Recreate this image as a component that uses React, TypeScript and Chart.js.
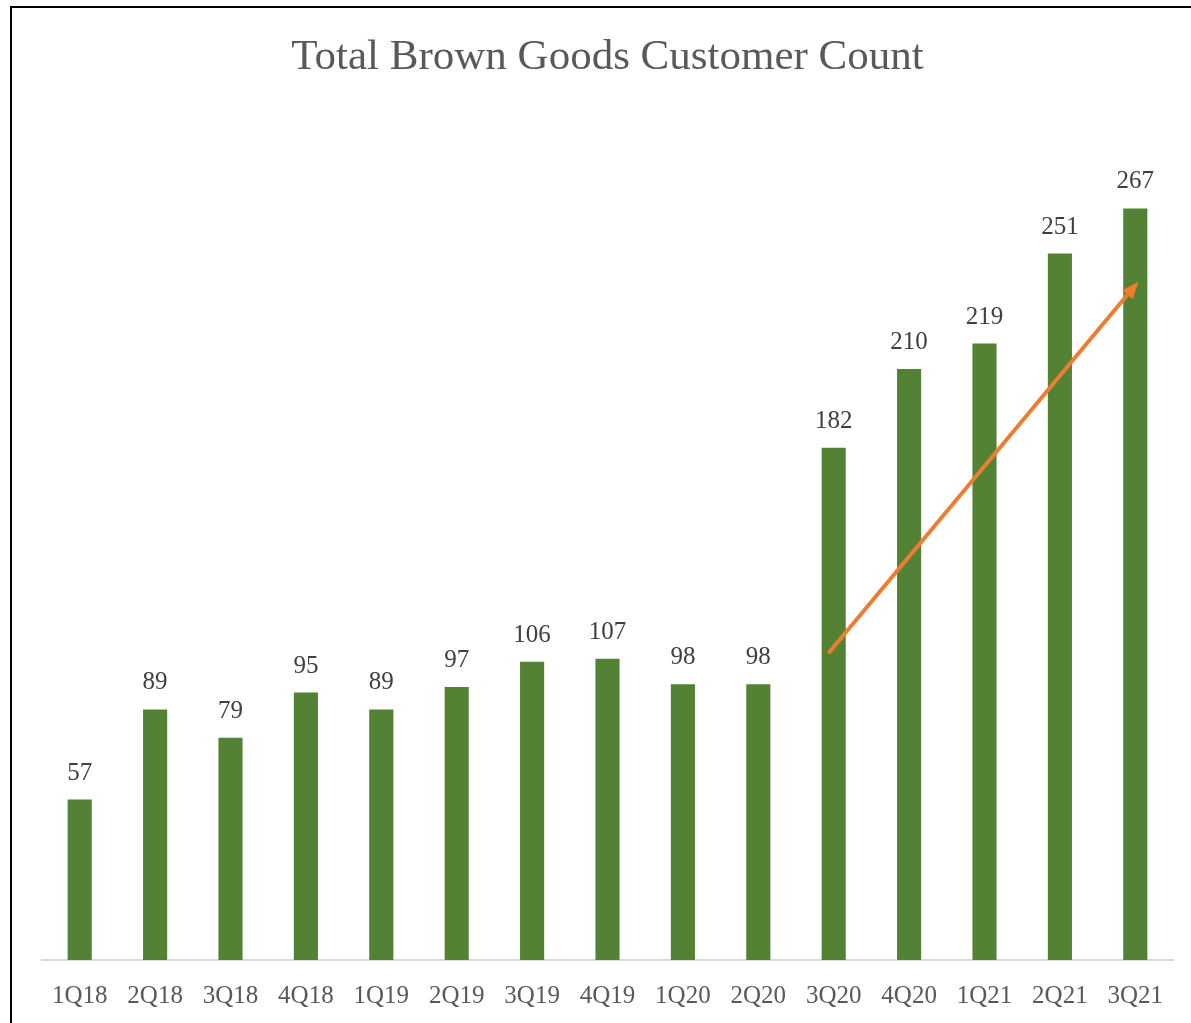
import React, { useEffect, useRef } from "react";
import { Chart, registerables } from "chart.js";

Chart.register(...registerables);

const TITLE = "Total Brown Goods Customer Count";
const categories = ["1Q18", "2Q18", "3Q18", "4Q18", "1Q19", "2Q19", "3Q19", "4Q19", "1Q20", "2Q20", "3Q20", "4Q20", "1Q21", "2Q21", "3Q21"];
const customerCounts = [57, 89, 79, 95, 89, 97, 106, 107, 98, 98, 182, 210, 219, 251, 267];
// Trend arrow, in data units: [category index, value]
const arrowStart = [9.93, 109];
const arrowEnd = [14.04, 241];

const FONT = "'Liberation Serif', 'Times New Roman', serif";

const valueLabels = {
  id: "valueLabels",
  afterDatasetsDraw(chart: any) {
    const ctx = chart.ctx;
    const meta = chart.getDatasetMeta(0);
    ctx.save();
    ctx.font = `25px ${FONT}`;
    ctx.fillStyle = "#404040";
    ctx.textAlign = "center";
    ctx.textBaseline = "alphabetic";
    meta.data.forEach((bar: any, i: number) => {
      ctx.fillText(String(customerCounts[i]), bar.x, bar.y - 20);
    });
    ctx.restore();
  },
};

const trendArrow = {
  id: "trendArrow",
  afterDatasetsDraw(chart: any) {
    const ctx = chart.ctx;
    const xs = chart.scales.x;
    const ys = chart.scales.y;
    const step = xs.getPixelForValue(1) - xs.getPixelForValue(0);
    const x0 = xs.getPixelForValue(0) + arrowStart[0] * step;
    const x1 = xs.getPixelForValue(0) + arrowEnd[0] * step;
    const y0 = ys.getPixelForValue(arrowStart[1]);
    const y1 = ys.getPixelForValue(arrowEnd[1]);
    const ang = Math.atan2(y1 - y0, x1 - x0);
    const headLen = 17;
    const headW = 7;
    const bx = x1 - headLen * Math.cos(ang);
    const by = y1 - headLen * Math.sin(ang);
    ctx.save();
    ctx.strokeStyle = "#ED7D31";
    ctx.fillStyle = "#ED7D31";
    ctx.lineWidth = 4;
    ctx.beginPath();
    ctx.moveTo(x0, y0);
    ctx.lineTo(bx, by);
    ctx.stroke();
    ctx.beginPath();
    ctx.moveTo(x1, y1);
    ctx.lineTo(bx + headW * Math.sin(ang), by - headW * Math.cos(ang));
    ctx.lineTo(bx - headW * Math.sin(ang), by + headW * Math.cos(ang));
    ctx.closePath();
    ctx.fill();
    ctx.restore();
  },
};

export default function App() {
  const canvasRef = useRef<HTMLCanvasElement>(null);

  useEffect(() => {
    if (!canvasRef.current) return;
    const chart = new Chart(canvasRef.current, {
      type: "bar",
      data: {
        labels: categories,
        datasets: [
          {
            label: "Customer Count",
            data: customerCounts,
            backgroundColor: "#548235",
            borderWidth: 0,
            barPercentage: 0.32,
            categoryPercentage: 1,
          },
        ],
      },
      options: {
        animation: false,
        responsive: false,
        maintainAspectRatio: false,
        layout: { padding: { left: 42, right: 18, top: 0, bottom: 0 } },
        plugins: {
          legend: { display: false },
          tooltip: { enabled: false },
          title: {
            display: true,
            text: TITLE,
            color: "#595959",
            font: { family: FONT, size: 43, weight: "normal", lineHeight: 1.2 },
            padding: { top: 32, bottom: 32 },
          },
        },
        scales: {
          x: {
            grid: { display: false, drawTicks: false },
            border: { display: true, color: "#D9D9D9", width: 2 },
            ticks: {
              color: "#595959",
              font: { family: FONT, size: 25, lineHeight: 1.2 },
              padding: 21,
              maxRotation: 0,
              autoSkip: false,
            },
          },
          y: {
            display: false,
            min: 0,
            max: 300,
          },
        },
      },
      plugins: [valueLabels, trendArrow],
    });
    return () => chart.destroy();
  }, []);

  return (
    <div style={{ position: "fixed", left: 0, top: 0, width: 1191, height: 1023, overflow: "hidden", background: "#fff" }}>
      <div
        style={{
          position: "absolute",
          left: 10,
          top: 6,
          width: 1300,
          height: 1200,
          border: "2.5px solid #000",
          boxSizing: "border-box",
        }}
      />
      <canvas ref={canvasRef} width={1191} height={1032} style={{ position: "absolute", left: 0, top: 0 }} />
    </div>
  );
}
